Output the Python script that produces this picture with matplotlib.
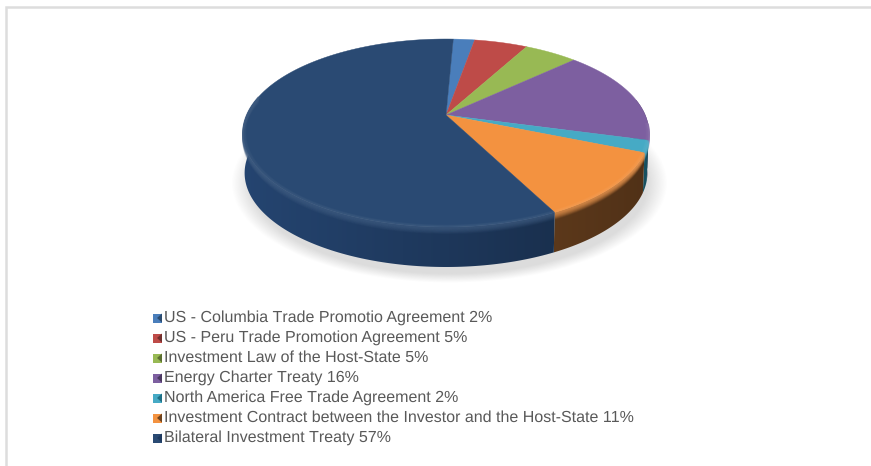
import numpy as np
import matplotlib
matplotlib.use("Agg")
import matplotlib.pyplot as plt
from matplotlib.patches import Polygon, Rectangle
from matplotlib.colors import to_rgb

plt.rcParams['font.family'] = ['Liberation Sans', 'DejaVu Sans']
plt.rcParams['text.hinting'] = 'no_hinting'
plt.rcParams['text.hinting_factor'] = 1

# Pie data
treaty_names = [
    "US - Columbia Trade Promotio Agreement",
    "US - Peru Trade Promotion Agreement",
    "Investment Law of the Host-State",
    "Energy Charter Treaty",
    "North America Free Trade Agreement",
    "Investment Contract between the Investor and the Host-State",
    "Bilateral Investment Treaty",
]
treaty_shares = [2, 5, 5, 16, 2, 11, 57]
top_colors = ["#4a7ebb", "#be4b48", "#98b954", "#7d5fa0", "#46aac5", "#f39240", "#2a4a73"]
side_colors = ["#2c4c70", "#72302e", "#5c6f32", "#4b3960", "#1f6f85", "#6f4420", "#1f3a5f"]

# Geometry of the tilted disc, in pixels
CX, CY = 446.0, 133.0
RX, RY = 203.0, 94.0
APEX_Y = 115.0
DEPTH = 40.0
SIDE_SHRINK = 0.992
START_ANGLE = np.radians(2.5)


def edge_point(angle, scale=1.0):
    # Perspective mapping of the unit circle, angle clockwise from 12 o'clock
    k = (CY - APEX_Y) / RY
    u = np.sin(angle) * scale
    v = np.cos(angle) * scale
    w = 1 + k * v
    x = CX + RX * np.sqrt(1 - k ** 2) * u / w
    y = CY - (RY * v + RY * k) / w
    return x, y


def lighten(color, amount):
    rgb = np.array(to_rgb(color))
    return tuple(rgb + (1 - rgb) * amount)


def draw_shadow(ax):
    nx, ny = 460, 180
    xs = np.linspace(225, 675, nx)
    ys = np.linspace(130, 300, ny)
    X, Y = np.meshgrid(xs, ys)
    r = np.sqrt(((X - 449) / 200) ** 2 + ((Y - 183) / 92) ** 2)
    rgba = np.zeros((ny, nx, 4))
    rgba[..., :3] = 0.6
    rgba[..., 3] = np.clip((1.09 - r) / 0.10, 0, 1) * 0.34
    ax.imshow(rgba, extent=(xs[0], xs[-1], ys[-1], ys[0]), aspect='auto', zorder=1)


def draw_side(ax, start, end, color):
    t = np.linspace(start, end, 200)
    x_top, y_top = edge_point(t)
    x_bot = CX + (x_top - CX) * SIDE_SHRINK
    y_bot = y_top + DEPTH
    pts = np.vstack([np.column_stack([x_top, y_top]),
                     np.column_stack([x_bot, y_bot])[::-1]])
    patch = Polygon(pts, closed=True, fc='none', ec='none')
    ax.add_patch(patch)

    # Side wall gets darker towards the right hand side
    rgb = np.array(to_rgb(color))
    shade = np.linspace(1.18, 0.72, 256)
    xs = np.linspace(243, 650, 256)
    grad = np.clip(rgb[None, None, :] * shade[None, :, None], 0, 1)
    im = ax.imshow(grad, extent=(xs[0], xs[-1], 300, 100), aspect='auto', zorder=2)
    im.set_clip_path(patch)


def draw_rim(ax, start, end, color):
    # Soft bevel where the top face rolls over into the side wall
    a = max(start, np.radians(95))
    b = min(end, np.radians(282))
    if b <= a:
        return
    t = np.linspace(a, b, 160)
    rim = lighten(color, 0.10)
    for d in np.arange(-2.0, 7.5, 0.5):
        x, y = edge_point(t, 1 + min(d, 0) * 0.006)
        alpha = 0.34 * (1 - abs(d - 1) / 6.5)
        ax.plot(x, y + max(d, 0), color=rim, lw=1.2, alpha=alpha,
                solid_capstyle='butt', zorder=4)


def draw_face(ax, start, end, color):
    t = np.linspace(start, end, 200)
    x, y = edge_point(t)
    pts = np.vstack([[CX, APEX_Y], np.column_stack([x, y])])
    ax.add_patch(Polygon(pts, closed=True, fc=color, ec=color, lw=0.3, zorder=3))


def draw_legend(ax):
    y0, step = 318.0, 20.0
    for i, (name, share) in enumerate(zip(treaty_names, treaty_shares)):
        y = y0 + i * step
        ax.add_patch(Rectangle((153, y - 4.5), 9, 9, fc=top_colors[i], ec='none', zorder=5))
        ax.add_patch(Polygon([[162, y - 4.5], [162, y + 4.5], [157, y]], closed=True,
                             fc=side_colors[i], ec='none', zorder=6))
        ax.text(164, y, f"{name} {share}%", fontsize=11.55, color="#595959",
                va='center', ha='left', zorder=6)


fig = plt.figure(figsize=(8.71, 4.66), dpi=100, facecolor='white')
ax = fig.add_axes([0, 0, 1, 1])
ax.set_xlim(0, 871)
ax.set_ylim(466, 0)
ax.axis('off')

# Chart frame, only the top and left lines are showing
ax.plot([6, 6, 871], [466, 7, 7], color="#dddddd", lw=1.8, solid_joinstyle='miter', zorder=0)

draw_shadow(ax)

fractions = np.array(treaty_shares) / sum(treaty_shares)
bounds = START_ANGLE + np.concatenate([[0], np.cumsum(fractions)]) * 2 * np.pi

for i in range(len(treaty_shares)):
    draw_side(ax, bounds[i], bounds[i + 1], side_colors[i])
for i in range(len(treaty_shares)):
    draw_face(ax, bounds[i], bounds[i + 1], top_colors[i])
for i in range(len(treaty_shares)):
    draw_rim(ax, bounds[i], bounds[i + 1], top_colors[i])

draw_legend(ax)

ax.set_xlim(0, 871)
ax.set_ylim(466, 0)
fig.savefig("out.png", dpi=100)
